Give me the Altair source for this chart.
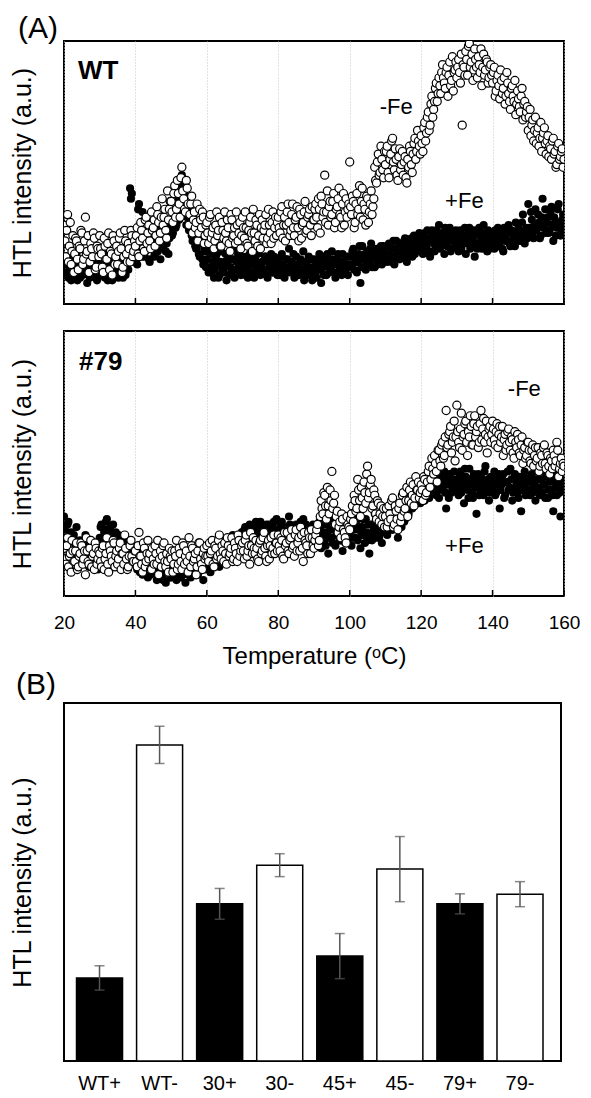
import altair as alt
import pandas as pd

FONT = "Liberation Sans"

# ---- Panel A: HTL traces (plot-height units 0-100) ----
# first reading set: 20.0, 20.5, ... 160.0 degC
wt_minus = [
    30, 18, 34, 22, 15, 26, 19, 24, 13, 21, 27, 17, 33, 20, 12, 23, 18, 25, 14, 21,
    26, 19, 12, 22, 17, 27, 20, 11, 24, 18, 15, 25, 21, 14, 28, 19, 23, 16, 26, 20,
    22, 29, 18, 31, 25, 20, 33, 27, 24, 35, 29, 22, 37, 31, 27, 40, 33, 28, 43, 36,
    39, 31, 45, 36, 42, 33, 52, 40, 35, 44, 30, 38, 27, 35, 31, 24, 36, 29, 33, 26,
    31, 23, 34, 27, 21, 30, 26, 33, 22, 28, 35, 24, 29, 20, 32, 26, 23, 30, 27, 21,
    33, 25, 29, 22, 31, 27, 36, 24, 30, 26, 21, 32, 28, 34, 25, 30, 23, 35, 29, 26,
    33, 27, 37, 30, 24, 35, 31, 28, 38, 26, 33, 29, 36, 25, 31, 39, 28, 34, 30, 37,
    32, 38, 29, 36, 41, 33, 49, 35, 30, 39, 34, 42, 31, 37, 44, 33, 38, 30, 40, 36,
    54, 34, 39, 31, 42, 36, 33, 44, 38, 30, 40, 35, 43, 37, 52, 46, 57, 50, 55, 48,
    53, 60, 48, 57, 63, 51, 55, 47, 59, 53, 49, 56, 46, 52, 58, 50, 61, 55, 66, 60,
    64, 58, 69, 65, 73, 68, 79, 74, 82, 77, 86, 80, 91, 84, 88, 79, 92, 85, 81, 89,
    86, 93, 84, 68, 90, 96, 87, 99, 92, 85, 97, 90, 94, 88, 83, 95, 89, 92, 86, 91,
    84, 90, 81, 87, 78, 85, 82, 76, 88, 80, 74, 83, 77, 72, 81, 75, 79, 70, 77, 73,
    66, 74, 68, 62, 71, 65, 60, 69, 63, 67, 57, 64, 60, 55, 63, 58, 53, 61, 56, 59,
    55,
]
wt_plus = [
    15, 11, 18, 13, 9, 16, 12, 19, 14, 10, 17, 12, 15, 8, 13, 18, 11, 16, 14, 10,
    16, 12, 19, 10, 14, 17, 11, 9, 15, 13, 18, 12, 16, 10, 14, 19, 13, 44, 42, 17,
    20, 15, 38, 24, 35, 18, 25, 21, 16, 27, 23, 19, 28, 22, 17, 26, 24, 20, 29, 25,
    31, 27, 36, 30, 41, 34, 49, 38, 44, 33, 28, 35, 24, 30, 21, 26, 18, 23, 15, 20,
    17, 12, 19, 14, 10, 18, 15, 11, 20, 13, 16, 9, 18, 14, 12, 17, 21, 13, 15, 11,
    18, 13, 16, 10, 19, 15, 12, 17, 14, 20, 11, 16, 13, 18, 10, 15, 19, 12, 17, 14,
    16, 11, 19, 14, 12, 17, 21, 13, 15, 10, 18, 14, 12, 16, 20, 11, 15, 18, 13, 9,
    17, 12, 15, 19, 8, 14, 18, 11, 16, 13, 20, 15, 10, 17, 12, 16, 19, 13, 15, 11,
    18, 14, 21, 16, 12, 19, 8, 22, 17, 13, 20, 16, 23, 18, 14, 21, 17, 19, 15, 22,
    19, 16, 23, 18, 21, 15, 24, 20, 17, 22, 19, 25, 16, 21, 23, 18, 26, 20, 22, 27,
    24, 19, 27, 22, 25, 18, 28, 23, 21, 26, 30, 22, 25, 19, 27, 24, 29, 21, 26, 23,
    25, 20, 28, 23, 26, 19, 24, 29, 22, 25, 18, 27, 23, 26, 21, 30, 24, 20, 27, 23,
    26, 21, 25, 29, 23, 27, 20, 26, 24, 30, 22, 27, 25, 31, 24, 28, 26, 34, 23, 29,
    38, 27, 32, 25, 36, 29, 31, 26, 40, 30, 27, 33, 28, 37, 24, 31, 29, 38, 26, 32,
    30,
]
m79_minus = [
    18, 12, 22, 15, 9, 17, 13, 20, 11, 16, 19, 14, 8, 17, 12, 21, 15, 10, 18, 14,
    16, 11, 19, 14, 22, 9, 17, 13, 20, 15, 12, 18, 10, 16, 23, 14, 11, 19, 15, 13,
    17, 11, 24, 15, 9, 18, 13, 21, 16, 10, 14, 19, 12, 8, 17, 15, 20, 11, 13, 18,
    14, 9, 17, 21, 12, 16, 10, 19, 15, 13, 22, 11, 18, 14, 8, 17, 20, 12, 16, 14,
    19, 13, 16, 21, 11, 18, 15, 23, 14, 17, 20, 12, 19, 16, 22, 14, 18, 13, 21, 17,
    20, 14, 23, 17, 12, 19, 22, 16, 18, 13, 21, 17, 24, 15, 19, 14, 22, 18, 16, 20,
    23, 17, 21, 14, 19, 24, 16, 22, 18, 15, 25, 20, 17, 23, 13, 21, 19, 24, 16, 22,
    18, 23, 27, 21, 36, 31, 38, 29, 34, 40, 47, 35, 27, 32, 26, 22, 29, 24, 20, 27,
    25, 31, 28, 36, 33, 40, 30, 37, 43, 35, 49, 39, 44, 34, 38, 29, 35, 31, 27, 33,
    30, 26, 34, 29, 37, 27, 32, 25, 35, 30, 39, 33, 41, 36, 43, 38, 34, 45, 40, 37,
    42, 36, 44, 39, 47, 41, 52, 46, 50, 43, 55, 49, 58, 53, 70, 57, 62, 54, 60, 51,
    72, 58, 63, 55, 61, 66, 53, 60, 64, 57, 68, 62, 56, 65, 59, 67, 61, 54, 63, 58,
    66, 59, 62, 56, 64, 60, 53, 61, 57, 63, 55, 59, 52, 58, 61, 54, 57, 50, 56, 53,
    58, 51, 55, 49, 56, 52, 47, 54, 50, 57, 48, 53, 46, 51, 55, 49, 58, 45, 50, 47,
    49,
]
m79_plus = [
    30, 22, 27, 17, 24, 14, 20, 26, 16, 21, 13, 18, 23, 15, 11, 17, 12, 19, 14, 10,
    22, 27, 19, 25, 29, 21, 26, 23, 18, 24, 20, 16, 22, 13, 19, 15, 21, 12, 17, 14,
    16, 10, 13, 18, 8, 12, 15, 7, 11, 14, 9, 13, 6, 10, 16, 8, 12, 5, 9, 11,
    7, 13, 10, 6, 12, 15, 8, 11, 5, 9, 14, 7, 12, 10, 16, 8, 11, 13, 6, 10,
    12, 17, 9, 14, 19, 13, 16, 11, 20, 15, 18, 13, 21, 17, 14, 22, 19, 16, 23, 20,
    21, 25, 18, 23, 27, 20, 24, 19, 26, 22, 28, 21, 25, 18, 24, 27, 22, 26, 20, 29,
    25, 21, 28, 23, 19, 26, 30, 22, 24, 18, 27, 23, 25, 20, 29, 22, 26, 17, 24, 21,
    26, 20, 23, 28, 18, 24, 21, 27, 16, 25, 22, 29, 19, 24, 26, 21, 17, 23, 28, 20,
    24, 19, 27, 22, 30, 25, 18, 26, 23, 29, 21, 16, 27, 24, 31, 22, 25, 28, 20, 26,
    29, 23, 27, 31, 25, 33, 28, 22, 30, 26, 34, 29, 36, 31, 39, 33, 37, 42, 35, 40,
    38, 44, 36, 41, 46, 39, 43, 48, 40, 45, 37, 44, 41, 47, 33, 42, 46, 39, 44, 41,
    43, 38, 47, 41, 35, 45, 40, 48, 42, 37, 44, 31, 46, 40, 43, 38, 49, 42, 36, 45,
    41, 47, 39, 44, 33, 42, 46, 38, 43, 40, 48, 36, 44, 41, 39, 45, 32, 42, 47, 40,
    43, 38, 46, 41, 36, 44, 40, 47, 39, 42, 45, 37, 43, 40, 32, 46, 38, 44, 30, 41,
    42,
]
# second reading set: 20.25, 20.75, ... 159.75 degC
wt_minus_2 = [
    24, 28, 16, 31, 20, 12, 25, 17, 22, 28, 15, 24, 19, 26, 16, 21, 27, 13, 22, 18,
    21, 14, 25, 17, 23, 13, 19, 26, 15, 22, 20, 27, 12, 18, 24, 16, 21, 28, 18, 24,
    26, 19, 24, 28, 21, 32, 23, 30, 21, 28, 32, 26, 34, 24, 33, 30, 36, 25, 32, 39,
    35, 42, 33, 47, 38, 48, 43, 36, 47, 38, 34, 41, 32, 29, 38, 27, 32, 35, 23, 30,
    27, 33, 25, 29, 24, 35, 28, 22, 31, 25, 27, 32, 23, 34, 25, 29, 35, 24, 31, 26,
    29, 35, 23, 28, 33, 20, 27, 32, 22, 34, 29, 25, 30, 23, 36, 27, 31, 25, 33, 31,
    29, 35, 25, 33, 30, 38, 26, 34, 29, 32, 37, 24, 34, 30, 35, 27, 33, 36, 26, 32,
    36, 33, 40, 27, 38, 35, 31, 43, 37, 33, 39, 29, 36, 40, 34, 29, 42, 35, 33, 38,
    37, 41, 29, 38, 34, 45, 39, 32, 36, 41, 31, 38, 34, 40, 47, 54, 49, 60, 51, 58,
    58, 50, 55, 62, 54, 59, 49, 56, 51, 58, 54, 48, 55, 60, 53, 57, 63, 58, 62, 57,
    61, 67, 62, 71, 66, 76, 71, 77, 84, 80, 83, 88, 86, 82, 90, 87, 83, 94, 88, 92,
    90, 88, 95, 91, 87, 93, 98, 90, 95, 89, 93, 86, 91, 97, 90, 87, 93, 84, 90, 87,
    88, 79, 85, 83, 89, 80, 86, 79, 84, 77, 82, 79, 85, 76, 78, 73, 82, 76, 71, 75,
    71, 64, 70, 66, 61, 67, 63, 58, 65, 61, 62, 56, 59, 62, 57, 52, 60, 55, 58, 52,
]
wt_plus_2 = [
    12, 17, 10, 14, 19, 11, 15, 9, 17, 13, 11, 16, 12, 18, 10, 14, 12, 17, 9, 15,
    13, 18, 11, 15, 9, 16, 12, 19, 11, 14, 10, 16, 13, 18, 11, 15, 20, 40, 16, 21,
    17, 36, 22, 18, 26, 20, 23, 17, 25, 21, 18, 26, 20, 24, 30, 21, 27, 23, 19, 28,
    26, 34, 29, 39, 32, 45, 35, 42, 30, 37, 31, 26, 33, 22, 28, 19, 24, 17, 21, 14,
    14, 20, 12, 16, 13, 19, 10, 16, 14, 12, 19, 15, 11, 17, 13, 10, 16, 19, 12, 17,
    15, 11, 18, 14, 12, 17, 10, 16, 19, 12, 15, 13, 18, 11, 16, 14, 12, 18, 15, 11,
    13, 18, 15, 10, 17, 14, 12, 16, 19, 12, 15, 11, 17, 13, 9, 16, 13, 11, 17, 14,
    14, 10, 17, 13, 16, 11, 15, 19, 12, 14, 17, 12, 15, 19, 14, 11, 16, 13, 18, 15,
    15, 20, 13, 18, 16, 22, 14, 17, 19, 15, 18, 21, 14, 20, 17, 15, 19, 22, 17, 20,
    17, 22, 19, 16, 24, 18, 21, 17, 23, 20, 24, 18, 22, 19, 25, 21, 19, 24, 22, 25,
    21, 26, 23, 28, 20, 24, 26, 20, 28, 24, 21, 27, 23, 29, 22, 25, 20, 27, 24, 28,
    22, 27, 21, 25, 29, 23, 27, 21, 26, 28, 23, 21, 29, 24, 27, 22, 26, 28, 21, 25,
    23, 28, 22, 27, 25, 21, 29, 24, 27, 23, 28, 25, 22, 27, 29, 24, 31, 26, 28, 25,
    29, 35, 26, 30, 28, 34, 25, 33, 29, 36, 31, 27, 35, 30, 33, 26, 36, 31, 28, 34,
]
m79_minus_2 = [
    14, 19, 11, 16, 21, 13, 17, 10, 15, 20, 12, 17, 22, 13, 18, 11, 16, 20, 12, 17,
    13, 18, 10, 16, 12, 19, 15, 21, 11, 17, 14, 20, 16, 12, 18, 10, 15, 21, 13, 17,
    13, 19, 15, 12, 20, 11, 16, 14, 10, 18, 12, 16, 21, 14, 11, 19, 13, 16, 9, 15,
    17, 12, 15, 10, 18, 13, 20, 12, 17, 9, 15, 19, 13, 16, 11, 20, 14, 10, 18, 15,
    15, 20, 17, 12, 19, 14, 21, 16, 19, 13, 16, 22, 15, 18, 13, 20, 16, 23, 15, 19,
    17, 21, 15, 19, 24, 16, 18, 21, 14, 20, 16, 22, 18, 13, 21, 19, 16, 23, 20, 17,
    19, 22, 15, 24, 20, 17, 21, 25, 19, 23, 17, 22, 26, 18, 24, 20, 16, 22, 25, 19,
    21, 25, 19, 30, 33, 39, 34, 41, 31, 36, 33, 38, 30, 24, 28, 31, 25, 22, 30, 26,
    29, 34, 38, 32, 44, 36, 41, 33, 39, 46, 37, 42, 33, 40, 31, 36, 28, 34, 30, 26,
    33, 28, 31, 36, 26, 34, 29, 33, 28, 38, 32, 36, 30, 40, 35, 42, 37, 40, 43, 39,
    40, 45, 38, 43, 49, 44, 48, 53, 47, 55, 51, 57, 52, 60, 56, 61, 64, 58, 66, 60,
    62, 56, 69, 60, 65, 58, 62, 68, 57, 65, 60, 64, 58, 70, 63, 58, 66, 60, 64, 61,
    63, 57, 65, 61, 58, 64, 59, 55, 62, 58, 60, 54, 62, 56, 59, 53, 60, 55, 52, 58,
    55, 50, 57, 53, 51, 56, 49, 53, 56, 50, 54, 49, 52, 48, 53, 51, 55, 48, 52, 50,
]
m79_plus_2 = [
    25, 18, 28, 21, 15, 23, 19, 12, 18, 15, 20, 12, 16, 19, 13, 15, 18, 11, 16, 13,
    26, 20, 24, 28, 22, 25, 19, 27, 21, 17, 23, 19, 15, 21, 17, 12, 18, 15, 19, 13,
    12, 15, 9, 13, 11, 16, 10, 13, 8, 12, 15, 10, 8, 13, 11, 6, 14, 9, 12, 7,
    10, 8, 14, 11, 9, 7, 13, 10, 12, 8, 11, 9, 15, 11, 9, 13, 10, 15, 12, 14,
    15, 11, 13, 17, 12, 18, 14, 19, 16, 13, 20, 17, 15, 19, 23, 18, 21, 17, 20, 24,
    22, 26, 20, 24, 21, 25, 22, 28, 20, 24, 23, 26, 21, 27, 23, 20, 25, 28, 23, 25,
    22, 27, 24, 20, 25, 23, 27, 20, 26, 22, 24, 20, 28, 22, 24, 27, 20, 25, 22, 27,
    23, 27, 21, 25, 22, 27, 19, 24, 22, 28, 20, 25, 23, 27, 21, 24, 26, 20, 25, 23,
    27, 22, 25, 28, 21, 26, 23, 29, 20, 24, 27, 23, 21, 26, 28, 24, 22, 27, 30, 24,
    26, 31, 28, 25, 30, 27, 31, 26, 29, 32, 28, 33, 30, 35, 38, 34, 40, 36, 39, 35,
    41, 38, 43, 40, 37, 45, 41, 44, 38, 42, 46, 40, 43, 39, 45, 37, 43, 40, 47, 43,
    40, 45, 39, 43, 48, 42, 37, 44, 39, 46, 41, 43, 38, 45, 41, 47, 40, 44, 39, 42,
    44, 38, 42, 46, 40, 44, 37, 43, 47, 41, 44, 39, 46, 42, 37, 43, 40, 45, 38, 43,
    40, 45, 39, 43, 47, 41, 38, 44, 42, 37, 46, 40, 44, 38, 43, 41, 47, 39, 43, 40,
]
tick_values = [20, 40, 60, 80, 100, 120, 140, 160]

# annotations (temperature, intensity units)
wt_notes = {"label": ["-Fe", "+Fe"], "T": [113.0, 132.1], "v": [75.0, 39.2]}
m79_notes = {"label": ["-Fe", "+Fe"], "T": [148.9, 132.1], "v": [78.1, 18.9]}

# ---- Panel B: bar chart ----
bar_labels = ["WT+", "WT-", "30+", "30-", "45+", "45-", "79+", "79-"]
bar_means = [23.2, 88.3, 43.9, 54.7, 29.3, 53.6, 43.9, 46.6]
bar_errors = [3.4, 5.2, 4.3, 3.2, 6.3, 9.1, 2.8, 3.5]
bar_iron = ["+", "-", "+", "-", "+", "-", "+", "-"]

PT_SIZE = 66
YT_PAD = 29


def series_frame(values, values_2):
    a = pd.DataFrame({"T": [20 + 0.5 * i for i in range(len(values))], "v": values})
    b = pd.DataFrame({"T": [20.25 + 0.5 * i for i in range(len(values_2))], "v": values_2})
    return pd.concat([a, b], ignore_index=True).sort_values("T").reset_index(drop=True)


def trace_panel(minus_df, plus_df, name, name_T, name_v, notes, height, bottom_axis, title=None):
    xs = alt.Scale(domain=[20, 160], nice=False, zero=False)
    ys = alt.Scale(domain=[0, 100], nice=False, zero=False)
    if bottom_axis:
        xaxis = alt.Axis(values=tick_values, format="d", grid=True, gridColor="#c4c4c4",
                         gridDash=[1, 2], gridWidth=1, ticks=False, domain=False,
                         labelFontSize=19, labelPadding=17, labelFlush=False, labelOverlap=False,
                         title="Temperature (ᵒC)", titleFontSize=24, titlePadding=12)
    else:
        xaxis = alt.Axis(values=tick_values, grid=True, gridColor="#c4c4c4", gridDash=[1, 2],
                         gridWidth=1, labels=False, ticks=False, domain=False, title=None)
    yaxis = alt.Axis(title="HTL intensity (a.u.)", labels=False, ticks=False, domain=False,
                     grid=False, titleFontSize=25, titlePadding=YT_PAD)
    plus = alt.Chart(plus_df).mark_circle(
        size=PT_SIZE, color="black", opacity=1, clip=True
    ).encode(x=alt.X("T:Q", scale=xs, axis=xaxis), y=alt.Y("v:Q", scale=ys, axis=yaxis))
    minus = alt.Chart(minus_df).mark_circle(
        size=PT_SIZE, fill="white", stroke="black", strokeWidth=1.2, opacity=1, fillOpacity=1, clip=True
    ).encode(x="T:Q", y="v:Q")
    ticks = alt.Chart(pd.DataFrame({"T": tick_values})).mark_rule(
        color="black", strokeWidth=1.5
    ).encode(x="T:Q", y=alt.value(height - 6), y2=alt.value(height))
    texts = alt.Chart(pd.DataFrame(notes)).mark_text(
        font=FONT, fontSize=22, color="black", baseline="middle"
    ).encode(x="T:Q", y="v:Q", text="label:N")
    name_layer = alt.Chart(pd.DataFrame({"label": [name], "T": [name_T], "v": [name_v]})).mark_text(
        font=FONT, fontSize=26, fontWeight="bold", align="left", baseline="middle", color="black"
    ).encode(x="T:Q", y="v:Q", text="label:N")
    ch = alt.layer(plus, minus, ticks, texts, name_layer).properties(width=500, height=height)
    if title is not None:
        ch = ch.properties(title=title)
    return ch


title_a = alt.TitleParams("(A)", anchor="start", frame="group", dx=-46, dy=33, offset=0,
                          fontSize=30, font=FONT, fontWeight="normal", baseline="bottom", color="black")
a1 = trace_panel(series_frame(wt_minus, wt_minus_2), series_frame(wt_plus, wt_plus_2),
                 "WT", 23.9, 88.6, wt_notes, 263, False, title_a)
a2 = trace_panel(series_frame(m79_minus, m79_minus_2), series_frame(m79_plus, m79_plus_2),
                 "#79", 24.2, 88.3, m79_notes, 265, True)

dfb = pd.DataFrame({
    "cat": bar_labels,
    "mean": bar_means,
    "lo": [m - e for m, e in zip(bar_means, bar_errors)],
    "hi": [m + e for m, e in zip(bar_means, bar_errors)],
    "iron": bar_iron,
})
xb = alt.X("cat:N", sort=bar_labels,
           scale=alt.Scale(paddingInner=0.234, paddingOuter=0.254, align=0.41),
           axis=alt.Axis(title=None, labelAngle=0, labelFontSize=20, ticks=False, domain=False,
                         labelPadding=12, grid=False))
yb = alt.Y("mean:Q", scale=alt.Scale(domain=[0, 100], nice=False),
           axis=alt.Axis(title="HTL intensity (a.u.)", labels=False, ticks=False, domain=False,
                         grid=False, titleFontSize=25, titlePadding=YT_PAD))
bars = alt.Chart(dfb).mark_bar(stroke="black", strokeWidth=1.5).encode(
    x=xb, y=yb,
    fill=alt.Fill("iron:N", scale=alt.Scale(domain=["+", "-"], range=["black", "white"]), legend=None),
)
err = alt.Chart(dfb).mark_rule(color="#555555", strokeWidth=1.5).encode(
    x=alt.X("cat:N", sort=bar_labels), y="lo:Q", y2="hi:Q")
cap_lo = alt.Chart(dfb).mark_tick(orient="horizontal", size=10, thickness=1.5, color="#555555").encode(
    x=alt.X("cat:N", sort=bar_labels), y="lo:Q")
cap_hi = alt.Chart(dfb).mark_tick(orient="horizontal", size=10, thickness=1.5, color="#555555").encode(
    x=alt.X("cat:N", sort=bar_labels), y="hi:Q")
title_b = alt.TitleParams("(B)", anchor="start", frame="group", dx=-48, dy=33, offset=6,
                          fontSize=30, font=FONT, fontWeight="normal", baseline="bottom", color="black")
b = alt.layer(bars, err, cap_lo, cap_hi).properties(width=497, height=358, title=title_b)

chart = alt.vconcat(alt.vconcat(a1, a2, spacing=24), b, spacing=0).properties(
    padding={"left": 1, "top": 5, "right": 0, "bottom": 0}
)
chart = chart.configure_view(stroke="black", strokeWidth=2).configure_axis(
    labelFont=FONT, titleFont=FONT, labelColor="black", titleColor="black", titleFontWeight="normal"
).configure_title(font=FONT, color="black", fontWeight="normal")

chart.save("out.html", embed_options={"renderer": "svg", "actions": False})
